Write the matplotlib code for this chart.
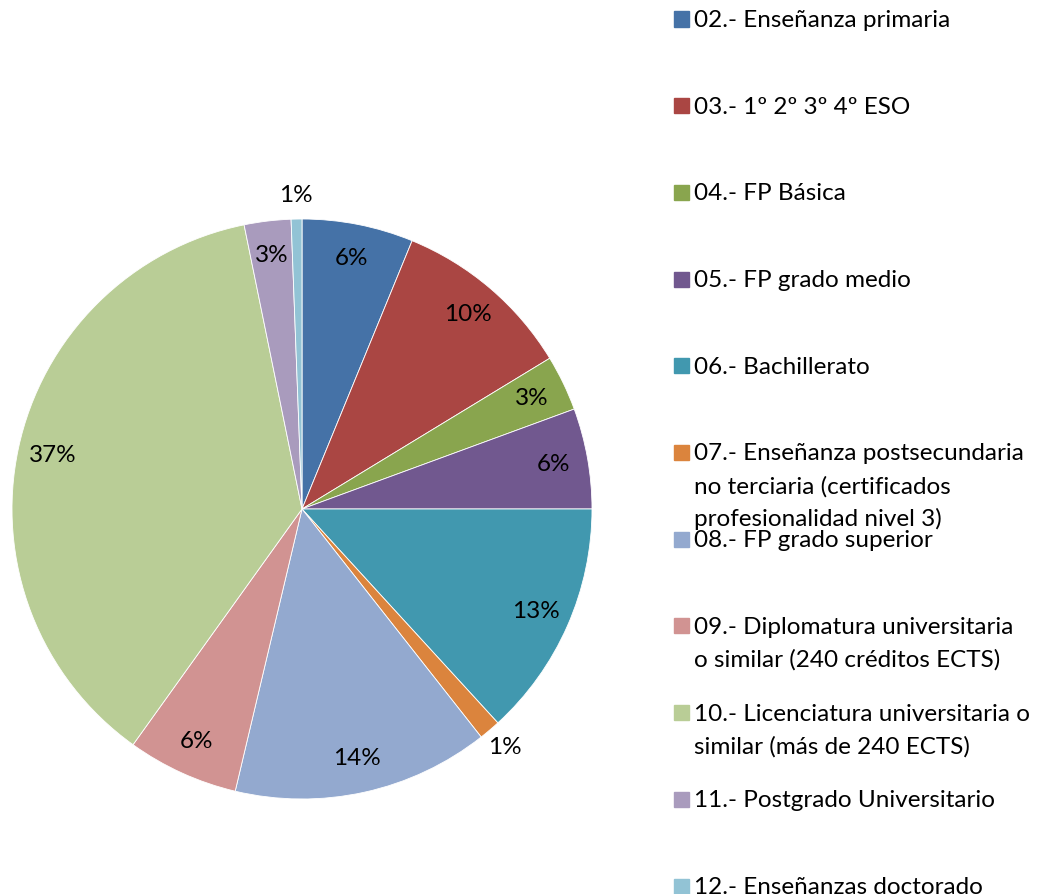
import matplotlib
matplotlib.use('Agg')
import matplotlib.pyplot as plt
import numpy as np
from matplotlib.patches import Rectangle

# data (percent of total)
categories = [
    '02.- Enseñanza primaria',
    '03.- 1º 2º 3º 4º ESO',
    '04.- FP Básica',
    '05.- FP grado medio',
    '06.- Bachillerato',
    '07.- Enseñanza postsecundaria\nno terciaria (certificados\nprofesionalidad nivel 3)',
    '08.- FP grado superior',
    '09.- Diplomatura universitaria\no similar (240 créditos ECTS)',
    '10.- Licenciatura universitaria o\nsimilar (más de 240 ECTS)',
    '11.- Postgrado Universitario',
    '12.- Enseñanzas doctorado',
]
shares = [6.2, 10.1, 3.1, 5.6, 13.2, 1.2, 14.3, 6.2, 36.9, 2.6, 0.6]
colors = ['#4572A7', '#AA4643', '#89A54E', '#71588F', '#4198AF', '#DB843D',
          '#93A9CF', '#D19392', '#B9CD96', '#A99BBD', '#92C3D5']

plt.rcParams['font.family'] = ['Lato', 'DejaVu Sans']

W, H = 1046, 894
fig = plt.figure(figsize=(W / 100, H / 100), dpi=100)

# pie: centre (302, 509), radius 290 px
ax = fig.add_axes([12 / W, (H - 799) / H, 580 / W, 580 / H])
wedges, _ = ax.pie(shares, colors=colors, startangle=90, counterclock=False,
                   radius=1, wedgeprops=dict(edgecolor='white', linewidth=0.6))
ax.set_xlim(-1, 1)
ax.set_ylim(-1, 1)

for w, v in zip(wedges, shares):
    mid = np.deg2rad((w.theta1 + w.theta2) / 2)
    r = 1.08 if v < 2 else 0.88
    ax.text(r * np.cos(mid), r * np.sin(mid), f'{v:.0f}%',
            ha='center', va='center', fontsize=17.5)

# legend drawn by hand (pixel positions from top-left)
def fx(x):
    return x / W


def fy(y):
    return 1 - y / H


for i, (cat, col) in enumerate(zip(categories, colors)):
    yc = 19 + i * 86.7
    fig.patches.append(Rectangle((fx(674), fy(yc + 7.5)), 15 / W, 15 / H,
                                 transform=fig.transFigure, color=col))
    for k, line in enumerate(cat.split('\n')):
        fig.text(fx(694), fy(yc + 8 + k * 33), line, ha='left', va='baseline',
                 fontsize=17.5)

fig.savefig('out.png', dpi=100)
